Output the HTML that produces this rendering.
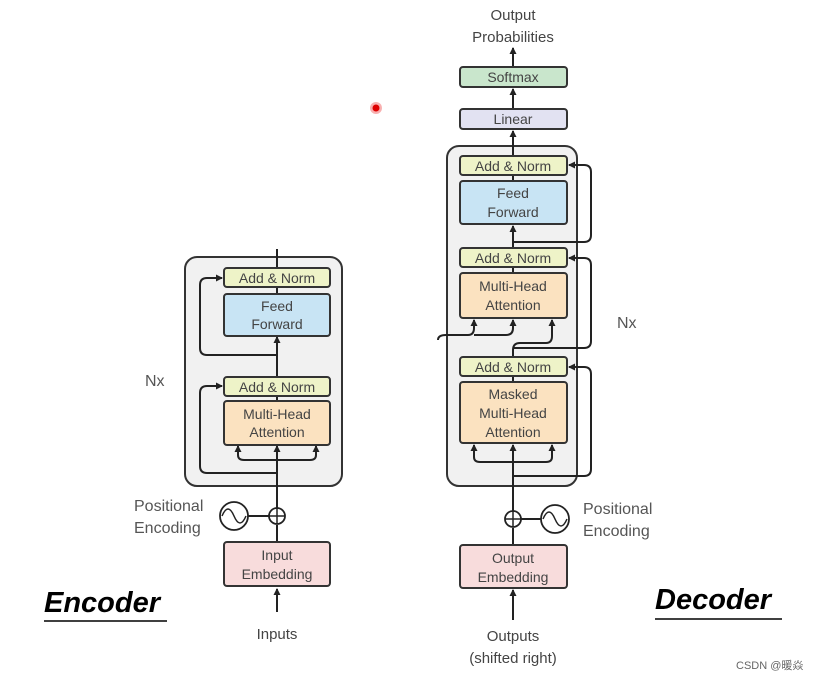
<!DOCTYPE html>
<html><head><style>body{margin:0;background:#fff}svg{display:block}text{font-family:"Liberation Sans","Noto Sans CJK SC",sans-serif}</style></head><body>
<svg width="818" height="681" viewBox="0 0 818 681" xmlns="http://www.w3.org/2000/svg">
<defs><marker id="a" markerWidth="8" markerHeight="8" refX="6" refY="4" orient="auto" markerUnits="userSpaceOnUse"><path d="M0,0.5 L7,4 L0,7.5z" fill="#222"/></marker></defs>
<rect width="818" height="681" fill="#fff"/>
<g stroke="#333" stroke-width="2">
<rect x="185" y="257" width="157" height="229" rx="12" fill="#f1f1f1"/>
<rect x="447" y="146" width="130" height="340" rx="12" fill="#f1f1f1"/>
</g>
<g fill="none" stroke="#222" stroke-width="2">
<!-- encoder -->
<path d="M277 612 V589" marker-end="url(#a)"/>
<path d="M277 542 V525"/>
<path d="M277 508 V446" marker-end="url(#a)"/>
<path d="M242 516 H269"/>
<path d="M277 473 H207 Q200 473 200 466 V393 Q200 386 207 386 H222" marker-end="url(#a)"/>
<path d="M238 446 V455 Q238 460 244 460 H310 Q316 460 316 455 V446"/>
<path d="M238 452 V446" marker-end="url(#a)"/><path d="M316 452 V446" marker-end="url(#a)"/>
<path d="M277 377 V337" marker-end="url(#a)"/>
<path d="M277 355 H207 Q200 355 200 348 V285 Q200 278 207 278 H222" marker-end="url(#a)"/>
<path d="M277 294 V287"/><path d="M277 268 V249"/><path d="M277 396 V401"/>
<!-- decoder -->
<path d="M513 620 V590" marker-end="url(#a)"/>
<path d="M513 545 V528"/>
<path d="M513 511 V445" marker-end="url(#a)"/>
<path d="M521 519 H541"/>
<path d="M513 476 H584 Q591 476 591 469 V374 Q591 367 584 367 H569" marker-end="url(#a)"/>
<path d="M474 445 V457 Q474 462 480 462 H546 Q552 462 552 457 V445"/>
<path d="M474 452 V445" marker-end="url(#a)"/><path d="M552 452 V445" marker-end="url(#a)"/>
<path d="M513 357 V350 Q513 343 520 343 H546 Q552 343 552 336 V320" marker-end="url(#a)"/>
<path d="M513 348 H584 Q591 348 591 341 V265 Q591 258 584 258 H569" marker-end="url(#a)"/>
<path d="M438 340 Q438 335 446 335 H468 Q474 335 474 328 V320" marker-end="url(#a)"/>
<path d="M474 335 H506 Q513 335 513 328 V320" marker-end="url(#a)"/>
<path d="M513 248 V226" marker-end="url(#a)"/>
<path d="M513 242 H584 Q591 242 591 235 V172 Q591 165 584 165 H569" marker-end="url(#a)"/>
<path d="M513 273 V267"/><path d="M513 181 V175"/><path d="M513 382 V376"/>
<path d="M513 156 V131" marker-end="url(#a)"/>
<path d="M513 109 V89" marker-end="url(#a)"/>
<path d="M513 67 V48" marker-end="url(#a)"/>
</g>
<g stroke="#333" stroke-width="2">
<rect x="224" y="268" width="106" height="19" rx="3" fill="#eef3c8"/>
<rect x="224" y="294" width="106" height="42" rx="3" fill="#c8e4f4"/>
<rect x="224" y="377" width="106" height="19" rx="3" fill="#eef3c8"/>
<rect x="224" y="401" width="106" height="44" rx="3" fill="#fbe2c0"/>
<rect x="224" y="542" width="106" height="44" rx="3" fill="#f8dcdc"/>
<rect x="460" y="156" width="107" height="19" rx="3" fill="#eef3c8"/>
<rect x="460" y="181" width="107" height="43" rx="3" fill="#c8e4f4"/>
<rect x="460" y="248" width="107" height="19" rx="3" fill="#eef3c8"/>
<rect x="460" y="273" width="107" height="45" rx="3" fill="#fbe2c0"/>
<rect x="460" y="357" width="107" height="19" rx="3" fill="#eef3c8"/>
<rect x="460" y="382" width="107" height="61" rx="3" fill="#fbe2c0"/>
<rect x="460" y="545" width="107" height="43" rx="3" fill="#f8dcdc"/>
<rect x="460" y="109" width="107" height="20" rx="3" fill="#e2e2f2"/>
<rect x="460" y="67" width="107" height="20" rx="3" fill="#c9e6cc"/>
</g>
<g stroke="#222" stroke-width="1.8" fill="#fff">
<circle cx="234" cy="516" r="14"/><circle cx="277" cy="516" r="8"/>
<circle cx="555" cy="519" r="14"/><circle cx="513" cy="519" r="8"/>
</g>
<g stroke="#222" stroke-width="1.5" fill="none">
<path d="M269 516 H285 M277 508 V524 M505 519 H521 M513 511 V527"/>
<path d="M222 516 Q228 502 234 516 Q240 530 246 516"/>
<path d="M543 519 Q549 505 555 519 Q561 533 567 519"/>
</g>
<g font-size="14" fill="#444" text-anchor="middle">
<text x="277" y="283">Add &amp; Norm</text>
<text x="277" y="311">Feed</text><text x="277" y="329">Forward</text>
<text x="277" y="392">Add &amp; Norm</text>
<text x="277" y="419">Multi-Head</text><text x="277" y="437">Attention</text>
<text x="277" y="560">Input</text><text x="277" y="579">Embedding</text>
<text x="277" y="639" font-size="15">Inputs</text>
<text x="513" y="171">Add &amp; Norm</text>
<text x="513" y="198">Feed</text><text x="513" y="217">Forward</text>
<text x="513" y="263">Add &amp; Norm</text>
<text x="513" y="291">Multi-Head</text><text x="513" y="310">Attention</text>
<text x="513" y="372">Add &amp; Norm</text>
<text x="513" y="399">Masked</text><text x="513" y="418">Multi-Head</text><text x="513" y="437">Attention</text>
<text x="513" y="563">Output</text><text x="513" y="582">Embedding</text>
<text x="513" y="124">Linear</text><text x="513" y="82">Softmax</text>
<text x="513" y="20" font-size="15">Output</text><text x="513" y="42" font-size="15">Probabilities</text>
<text x="513" y="641" font-size="15">Outputs</text><text x="513" y="663" font-size="15">(shifted right)</text>
</g>
<g font-size="16" fill="#555">
<text x="145" y="386">Nx</text><text x="617" y="328">Nx</text>
<text x="134" y="511">Positional</text><text x="134" y="533">Encoding</text>
<text x="583" y="514">Positional</text><text x="583" y="536">Encoding</text>
</g>
<g font-size="29" font-weight="bold" font-style="italic" fill="#000">
<text x="44" y="612">Encoder</text><text x="655" y="609">Decoder</text>
</g>
<path d="M44 621 H167 M655 619 H782" stroke="#000" stroke-width="1.5"/>
<circle cx="376" cy="108" r="6" fill="#f8b0b0"/><circle cx="376" cy="108" r="3.5" fill="#d00"/>
<text x="736" y="669" font-size="11" fill="#666">CSDN @暖焱</text>
</svg>
</body></html>
